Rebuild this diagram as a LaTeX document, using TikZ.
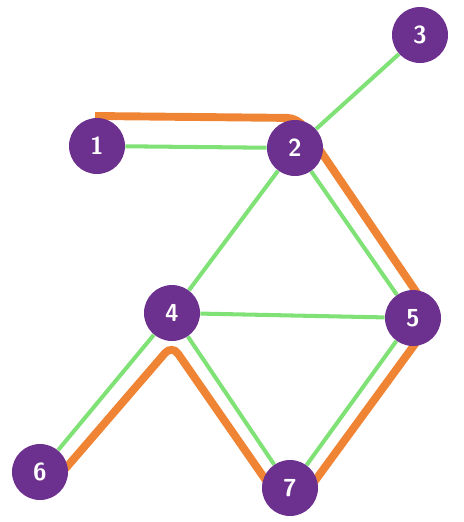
\documentclass[tikz,border=0pt]{standalone}
\usepackage{tikz}
\usetikzlibrary{positioning, backgrounds}
\usepackage{xcolor}
\definecolor{vpurple}{RGB}{108,48,142}
\definecolor{egreen}{RGB}{128,226,118}
\definecolor{porange}{RGB}{238,132,52}

\begin{document}
\begin{tikzpicture}[
  x=0.02cm, y=-0.02cm,
  vertex/.style={circle, fill=vpurple, text=white, minimum size=1.12cm,
                 inner sep=0pt, font=\sffamily\bfseries\fontsize{14}{14}\selectfont},
  edge/.style={draw=egreen, line width=2.3pt},
  route/.style={draw=porange, line width=4.5pt, rounded corners=6pt}
]
\useasboundingbox (0,0) rectangle (464,522);

% Vertices
\node[vertex] (n1) at (97,146)  {1};
\node[vertex] (n2) at (295,148) {2};
\node[vertex] (n3) at (420,35)  {3};
\node[vertex] (n4) at (172,313) {4};
\node[vertex] (n5) at (413,318) {5};
\node[vertex] (n6) at (40,472)  {6};
\node[vertex] (n7) at (290,488) {7};

\begin{scope}[on background layer]
% Graph edges
\draw[edge] (n1) -- (n2);
\draw[edge] (n2) -- (n3);
\draw[edge] (n2) -- (n4);
\draw[edge] (n2) -- (n5);
\draw[edge] (n4) -- (n5);
\draw[edge] (n4) -- (n6);
\draw[edge] (n4) -- (n7);
\draw[edge] (n5) -- (n7);

% Route 1-2-5-7-4-6
\draw[route] ([shift={(-2,-30)}]n1.center) -- ([shift={(3,-30)}]n2.center)
  -- ([shift={(21,0)}]n5.center) -- ([shift={(0,27)}]n7.center)
  -- ([shift={(0,32)}]n4.center) -- ([shift={(13,11)}]n6.center);
\end{scope}

\end{tikzpicture}
\end{document}
